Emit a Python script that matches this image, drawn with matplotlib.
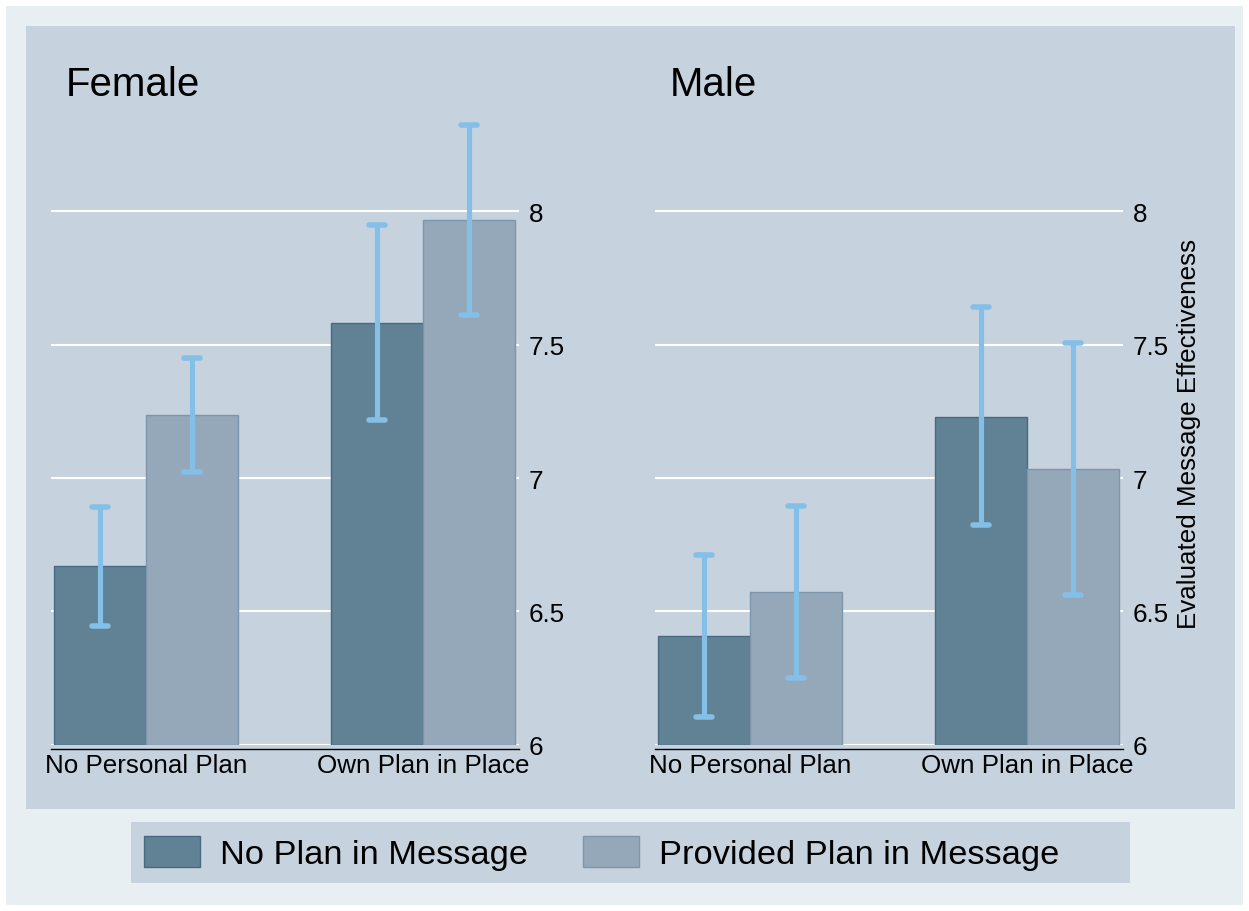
import matplotlib
matplotlib.use("Agg")
import matplotlib.pyplot as plt
from matplotlib.patches import Rectangle, Patch
import numpy as np

plt.rcParams['font.family'] = ['Liberation Sans', 'DejaVu Sans']

# Data: mean evaluated effectiveness with 95% CI bounds
groups = ["Female", "Male"]
categories = ["No Personal Plan", "Own Plan in Place"]
series = ["No Plan in Message", "Provided Plan in Message"]

female_no_plan = [6.67, 7.58]
female_no_plan_lo = [6.446, 7.217]
female_no_plan_hi = [6.891, 7.948]
female_provided = [7.236, 7.966]
female_provided_lo = [7.022, 7.610]
female_provided_hi = [7.449, 8.322]

male_no_plan = [6.408, 7.228]
male_no_plan_lo = [6.105, 6.824]
male_no_plan_hi = [6.712, 7.640]
male_provided = [6.573, 7.034]
male_provided_lo = [6.251, 6.562]
male_provided_hi = [6.895, 7.506]

yticks = [6, 6.5, 7, 7.5, 8]
ytick_labels = ["6", "6.5", "7", "7.5", "8"]

W, H = 1249, 912
OUTER_BG = "#E8EFF2"
INNER_BG = "#C6D3DF"
DARK = "#618195"
DARK_EDGE = "#486A80"
LIGHT = "#95A8B9"
LIGHT_EDGE = "#7D95AA"
ERR = "#84BFE7"
TICK_FS = 18.7

fig = plt.figure(figsize=(W / 100, H / 100), dpi=100, facecolor="white")


def px_rect(x0, y0, x1, y1, color, z):
    fig.patches.append(Rectangle((x0 / W, 1 - y1 / H), (x1 - x0) / W, (y1 - y0) / H,
                                 transform=fig.transFigure, facecolor=color,
                                 edgecolor="none", zorder=z))


px_rect(6, 7, 1243, 906, OUTER_BG, -10)
px_rect(26, 27, 1235, 810, INNER_BG, -9)
px_rect(131, 823, 1130, 884, INNER_BG, -9)

panel_data = {
    "Female": (female_no_plan, female_no_plan_lo, female_no_plan_hi,
               female_provided, female_provided_lo, female_provided_hi),
    "Male": (male_no_plan, male_no_plan_lo, male_no_plan_hi,
             male_provided, male_provided_lo, male_provided_hi),
}

ax_left_px = {"Female": 51, "Male": 655}
title_x_px = {"Female": 66, "Male": 670}
ax_w_px = 468
ax_bottom_px = 746
ax_top_px = 100
ymin = 6.0
ymax = 6.0 + (ax_bottom_px - ax_top_px) / 267.0

x = np.arange(len(categories))
bw = 0.332
axes = []
for g in groups:
    ax = fig.add_axes([ax_left_px[g] / W, 1 - ax_bottom_px / H,
                       ax_w_px / W, (ax_bottom_px - ax_top_px) / H])
    ax.set_facecolor("none")
    a_mean, a_lo, a_hi, b_mean, b_lo, b_hi = panel_data[g]
    a_mean, a_lo, a_hi = map(np.array, (a_mean, a_lo, a_hi))
    b_mean, b_lo, b_hi = map(np.array, (b_mean, b_lo, b_hi))

    ax.bar(x - bw / 2, a_mean - ymin, bottom=ymin, width=bw, color=DARK,
           edgecolor=DARK_EDGE, linewidth=1.0, zorder=2)
    ax.bar(x + bw / 2, b_mean - ymin, bottom=ymin, width=bw, color=LIGHT,
           edgecolor=LIGHT_EDGE, linewidth=1.0, zorder=2)

    for xs, m, lo, hi in ((x - bw / 2, a_mean, a_lo, a_hi),
                          (x + bw / 2, b_mean, b_lo, b_hi)):
        ax.vlines(xs, lo, hi, color=ERR, linewidth=3.7, zorder=3,
                  capstyle="butt")
        cap = 0.029
        for yy in (lo, hi):
            ax.hlines(yy, xs - cap, xs + cap, color=ERR, linewidth=4.0,
                      zorder=3, capstyle="round")

    ax.set_xlim(-0.343, -0.343 + ax_w_px / 277.0)
    ax.set_ylim(ymin, ymax)
    ax.set_yticks(yticks)
    ax.set_yticklabels(ytick_labels)
    ax.yaxis.tick_right()
    ax.tick_params(axis="y", length=0, pad=7, labelsize=TICK_FS, colors="black")
    ax.grid(axis="y", color="white", linewidth=1.5, zorder=0)
    ax.set_axisbelow(True)
    ax.set_xticks(x)
    ax.set_xticklabels(categories)
    ax.tick_params(axis="x", length=0, pad=3, labelsize=TICK_FS)
    for s in ("top", "left", "right"):
        ax.spines[s].set_visible(False)
    ax.spines["bottom"].set_position(("outward", 3))
    ax.spines["bottom"].set_color("black")
    ax.spines["bottom"].set_linewidth(1.0)

    fig.text(title_x_px[g] / W, 1 - 96 / H, g, fontsize=29, ha="left",
             va="baseline")
    axes.append(ax)

fig.text(1189 / W, 1 - 434 / H, "Evaluated Message Effectiveness",
         rotation=90, ha="center", va="center", fontsize=TICK_FS)

handles = [Patch(facecolor=DARK, edgecolor=DARK_EDGE, linewidth=1.0),
           Patch(facecolor=LIGHT, edgecolor=LIGHT_EDGE, linewidth=1.0)]
fig.legend(handles, series, loc="center left",
           bbox_to_anchor=(144 / W, 1 - 854 / H), ncol=2, frameon=False,
           fontsize=24.75, handlelength=1.62, handleheight=1.0,
           handletextpad=0.58, columnspacing=1.62, borderpad=0,
           borderaxespad=0)

fig.savefig("out.png", dpi=100, facecolor="white")
